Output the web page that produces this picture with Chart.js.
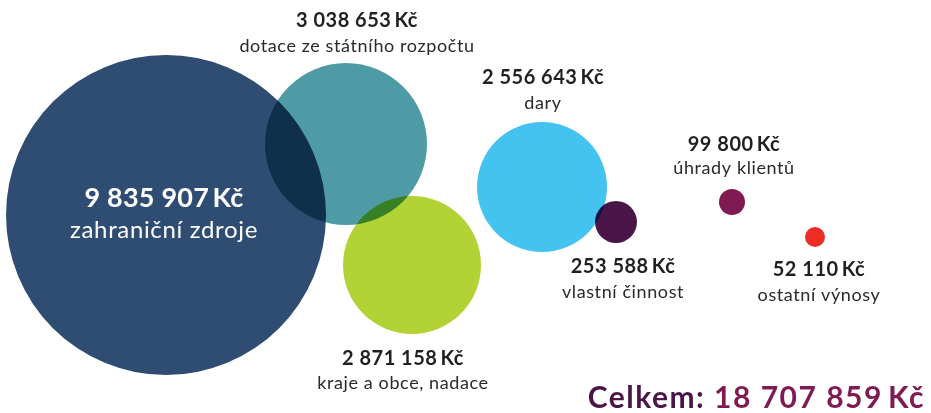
<!DOCTYPE html>
<html>
<head>
<meta charset="utf-8">
<script src="https://cdn.jsdelivr.net/npm/chart.js@4"></script>
<style>
  html, body { margin: 0; padding: 0; background: #fff; }
  #wrap { width: 931px; height: 413px; position: relative; }
</style>
</head>
<body>
<div id="wrap"><canvas id="chart"></canvas></div>
<script>
// data
const categories = ['zahraniční zdroje', 'dotace ze státního rozpočtu', 'kraje a obce, nadace', 'dary', 'vlastní činnost', 'úhrady klientů', 'ostatní výnosy'];
const amounts = [9835907, 3038653, 2871158, 2556643, 253588, 99800, 52110];
const total = 18707859;
const bubbleX = [166, 346, 412, 542, 616, 732, 815];
const bubbleY = [215, 144, 265, 187, 222, 202, 237];
const bubbleR = [160, 81, 69, 65, 21, 13, 10];
const colors = ['#2f4c72', '#4e9ba6', '#b3d236', '#44c2f0', '#4a1548', '#7f1a52', '#ee2e24'];

// where the texts sit: [x, y of amount, y of name]
const labelPos = [
  [164, 198, 230],
  [357, 21, 46],
  [403, 359, 383],
  [543, 78, 103],
  [623, 267, 292],
  [734, 145, 168],
  [819, 270, 295]
];

function fmt(n) {
  return n.toString().replace(/\B(?=(\d{3})+(?!\d))/g, ' ') + '\u2009Kč';
}

// each category is its own dataset so overlaps can be multiplied
const datasets = categories.map((c, i) => ({
  label: c,
  data: [{ x: bubbleX[i], y: bubbleY[i], r: bubbleR[i] }],
  backgroundColor: colors[i],
  borderWidth: 0,
  hoverBorderWidth: 0,
  clip: false
}));

const multiplyPlugin = {
  id: 'multiply',
  beforeDatasetDraw(chart) {
    chart.ctx.save();
    chart.ctx.globalCompositeOperation = 'multiply';
  },
  afterDatasetDraw(chart) {
    chart.ctx.restore();
  }
};

const labelsPlugin = {
  id: 'labels',
  afterDraw(chart) {
    const ctx = chart.ctx;
    ctx.save();
    ctx.textAlign = 'center';
    ctx.textBaseline = 'middle';
    categories.forEach((c, i) => {
      const p = labelPos[i];
      const big = i === 0;
      ctx.fillStyle = big ? '#ffffff' : '#231f20';
      ctx.font = 'bold ' + (big ? 27 : 20) + 'px Lato';
      ctx.letterSpacing = big ? '0.2px' : '0.5px';
      ctx.fillText(fmt(amounts[i]), p[0], p[1]);
      ctx.fillStyle = big ? '#ffffff' : '#2b2a2a';
      ctx.font = (big ? 24 : 18) + 'px Lato';
      ctx.letterSpacing = big ? '0.65px' : '0.6px';
      ctx.fillText(c, p[0], p[2]);
    });
    // total
    ctx.textAlign = 'right';
    ctx.textBaseline = 'alphabetic';
    ctx.font = 'bold 30px Lato';
    ctx.letterSpacing = '1.5px';
    const num = fmt(total);
    ctx.fillStyle = '#7f1a52';
    ctx.fillText(num, 925, 408);
    const w = ctx.measureText(num).width;
    ctx.fillStyle = '#4a1548';
    ctx.fillText('Celkem: ', 925 - w, 408);
    ctx.restore();
  }
};

new Chart(document.getElementById('chart'), {
  type: 'bubble',
  data: { datasets: datasets },
  options: {
    responsive: true,
    maintainAspectRatio: false,
    animation: false,
    layout: { padding: 0, autoPadding: false },
    plugins: {
      legend: { display: false },
      tooltip: { enabled: false }
    },
    scales: {
      x: { type: 'linear', min: 0, max: 931, display: false },
      y: { type: 'linear', min: 0, max: 413, reverse: true, display: false }
    }
  },
  plugins: [multiplyPlugin, labelsPlugin]
});
</script>
</body>
</html>
